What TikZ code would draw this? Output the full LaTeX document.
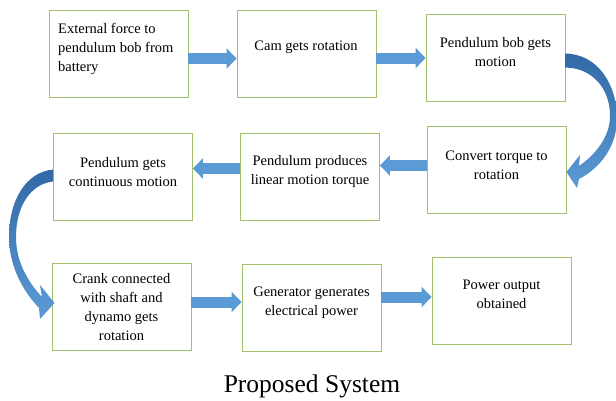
\documentclass[tikz,border=0pt]{standalone}
\usepackage{fontspec}
\setmainfont{Liberation Serif}
\usetikzlibrary{arrows.meta,calc}
\definecolor{boxgreen}{RGB}{160,192,110}
\definecolor{arrowblue}{RGB}{91,155,213}
\definecolor{arrowdark}{RGB}{50,105,165}

\begin{document}
\begin{tikzpicture}[x=1pt,y=-1pt,
	box/.style={draw=boxgreen,line width=0.9pt,minimum width=139pt,minimum height=87pt,inner sep=0pt},
	txt/.style={align=center,inner sep=0pt,font=\fontsize{14.5}{19}\selectfont},
	blk/.style={arrowblue,line width=11pt,-{Triangle[length=10pt,width=20pt]}},
	curvy/.style={top color=arrowdark,bottom color=arrowblue}]
	\useasboundingbox (0,0) rectangle (616,400);
	% blocks
		\node[box] (force) at (118.5,54) {};
		\node[box] (cam) at (306.5,54) {};
		\node[box] (bob) at (495.5,57.5) {};
		\node[box] (convert) at (496.5,170) {};
		\node[box] (produces) at (310,176.5) {};
		\node[box] (continuous) at (123,176.5) {};
		\node[box] (crank) at (121.5,307) {};
		\node[box] (generator) at (311.5,307.5) {};
		\node[box] (output) at (501.5,300.5) {};
	% texts
		\node[txt,align=left,anchor=west] (force-t) at (58,49) {External force to\\pendulum bob from\\battery};
		\node[txt] (cam-t) at (306,47) {Cam gets rotation};
		\node[txt] (bob-t) at (495.5,52.5) {Pendulum bob gets\\motion};
		\node[txt] (convert-t) at (496.5,165.5) {Convert torque to\\rotation};
		\node[txt] (produces-t) at (310,172) {Pendulum produces\\linear motion torque};
		\node[txt] (continuous-t) at (123,172) {Pendulum gets\\continuous motion};
		\node[txt] (crank-t) at (121.5,307) {Crank connected\\with shaft and\\dynamo gets\\rotation};
		\node[txt] (generator-t) at (311.5,302.5) {Generator generates\\electrical power};
		\node[txt] (output-t) at (501.5,294) {Power output\\obtained};
		\node[font=\fontsize{25.5}{30}\selectfont,inner sep=0pt] (title) at (312,386) {Proposed System};
	% straight arrows
		\draw[blk] ($(force.east)+(0,4.5)$) -- ($(cam.west)+(0,4.5)$);
		\draw[blk] ($(cam.east)+(0,4)$) -- ($(bob.west|-cam.east)+(0,4)$);
		\draw[blk] ($(convert.west)+(0,-4.5)$) -- ($(produces.east|-convert.west)+(0,-4.5)$);
		\draw[blk] ($(produces.west)+(0,-8)$) -- ($(continuous.east)+(0,-8)$);
		\draw[blk] ($(crank.east)+(0,-5)$) -- ($(generator.west|-crank.east)+(0,-5)$);
		\draw[blk] ($(generator.east)+(0,-10.5)$) -- ($(output.west|-generator.east)+(0,-10.5)$);
	% curved arrows
		\coordinate (r1) at ($(bob.north east)+(0,40)$);
		\coordinate (r2) at ($(bob.north east)+(0,54)$);
		\coordinate (rt) at ($(convert.east)+(0,2)$);
		\shade[curvy] (r1) .. controls (598,54) and (617,85) .. (617,118)
			.. controls (617,147) and (600,168) .. (579,179) -- (577,188) -- (rt) -- (580,155)
			-- (579,166) .. controls (595,155) and (610,137) .. (610,116)
			.. controls (610,88) and (592,68) .. (r2) -- cycle;
		\coordinate (l1) at ($(continuous.west)+(0,-7)$);
		\coordinate (l2) at ($(continuous.west)+(0,5)$);
		\coordinate (lt) at ($(crank.west)+(3,-4)$);
		\shade[curvy] (l1) .. controls (26,172) and (9,200) .. (9,237)
			.. controls (9,265) and (22,290) .. (39,308) -- (40,319) -- (lt) -- (40,285)
			-- (42,297) .. controls (28,282) and (16,262) .. (16,237)
			.. controls (16,207) and (30,184) .. (l2) -- cycle;
\end{tikzpicture}
\end{document}
